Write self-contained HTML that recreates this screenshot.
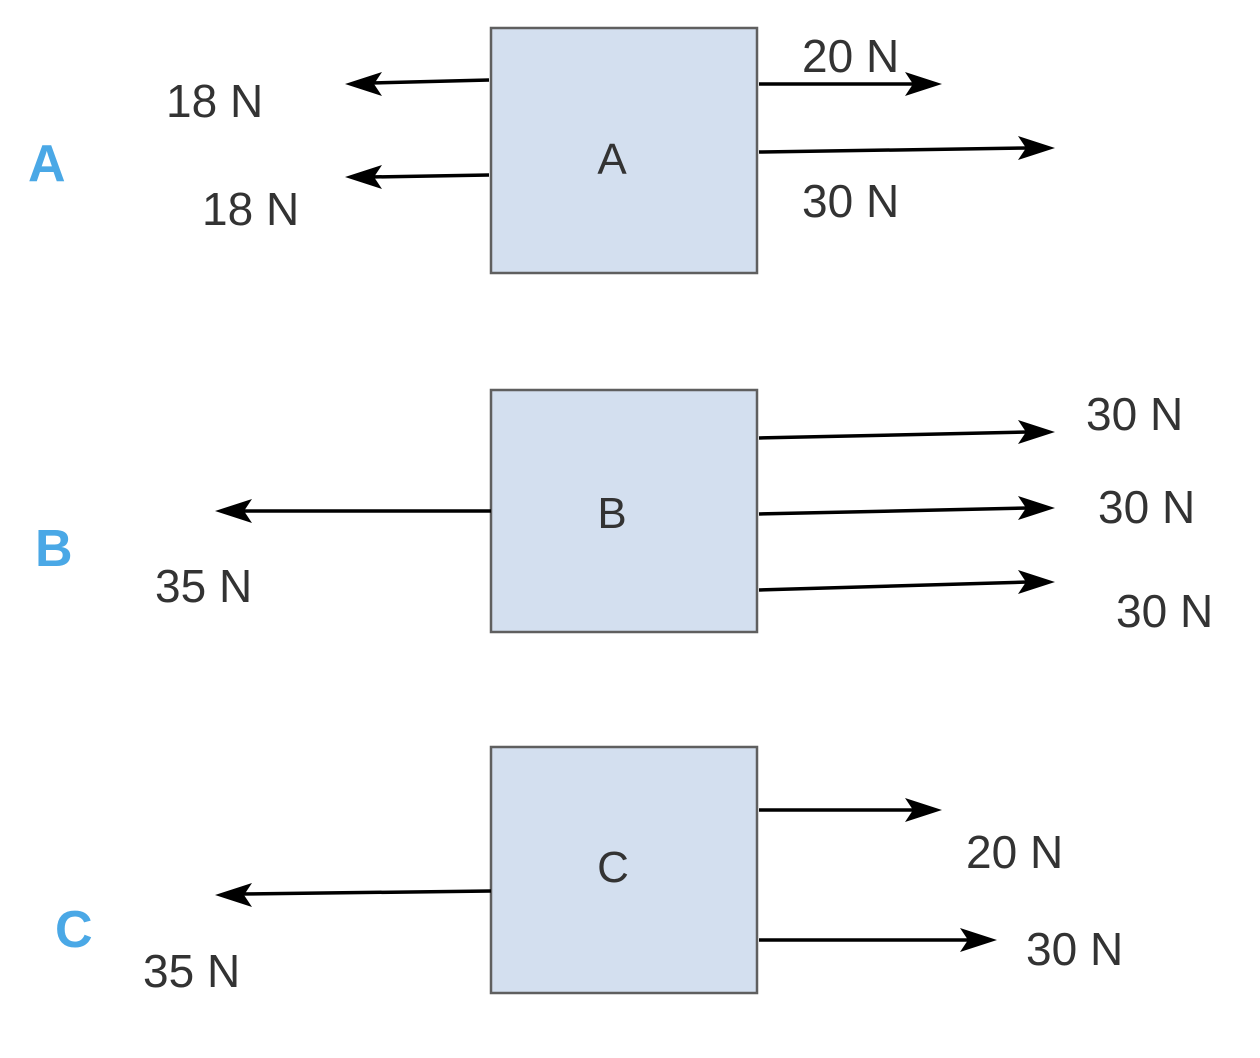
<!DOCTYPE html>
<html><head><meta charset="utf-8"><style>
html,body{margin:0;padding:0;background:#fff}
svg{display:block}
text{font-family:"Liberation Sans",sans-serif}
</style></head><body>
<svg width="1260" height="1058" viewBox="0 0 1260 1058" xmlns="http://www.w3.org/2000/svg">
<g fill="#d3dfef" stroke="#5f5f5f" stroke-width="2.5">
<rect x="491" y="28" width="266" height="245"/>
<rect x="491" y="390" width="266" height="242"/>
<rect x="491" y="747" width="266" height="246"/>
</g>
<g stroke="#000" stroke-width="3.5">
<line x1="489" y1="80" x2="370" y2="83"/>
<line x1="489" y1="175" x2="370" y2="177"/>
<line x1="759" y1="84" x2="915" y2="84"/>
<line x1="759" y1="152" x2="1028" y2="148"/>
<line x1="759" y1="438" x2="1028" y2="432"/>
<line x1="759" y1="514" x2="1028" y2="508"/>
<line x1="759" y1="590" x2="1028" y2="582"/>
<line x1="491" y1="511" x2="240" y2="511"/>
<line x1="759" y1="810" x2="915" y2="810"/>
<line x1="759" y1="940" x2="970" y2="940"/>
<line x1="491" y1="891" x2="240" y2="894"/>
</g>
<g fill="#000">
<polygon points="345,84 382,72 374,84 382,96"/>
<polygon points="345,177 382,165 374,177 382,189"/>
<polygon points="942,84 905,72 913,84 905,96"/>
<polygon points="1055,148 1018,136 1026,148 1018,160"/>
<polygon points="1055,432 1018,420 1026,432 1018,444"/>
<polygon points="1055,508 1018,496 1026,508 1018,520"/>
<polygon points="1055,582 1018,570 1026,582 1018,594"/>
<polygon points="215,511 252,499 244,511 252,523"/>
<polygon points="942,810 905,798 913,810 905,822"/>
<polygon points="997,940 960,928 968,940 960,952"/>
<polygon points="215,895 252,883 244,895 252,907"/>
</g>
<g fill="#333" font-size="46">
<text x="166" y="117">18 N</text>
<text x="202" y="225">18 N</text>
<text x="802" y="72">20 N</text>
<text x="802" y="217">30 N</text>
<text x="1086" y="430">30 N</text>
<text x="1098" y="523">30 N</text>
<text x="1116" y="627">30 N</text>
<text x="155" y="602">35 N</text>
<text x="966" y="868">20 N</text>
<text x="1026" y="965">30 N</text>
<text x="143" y="987">35 N</text>
</g>
<g fill="#333" font-size="44" text-anchor="middle">
<text x="612" y="174">A</text>
<text x="612" y="528">B</text>
<text x="613" y="882">C</text>
</g>
<g fill="#4aa8e6" font-size="52" font-weight="bold">
<text x="28" y="181">A</text>
<text x="35" y="566">B</text>
<text x="55" y="947">C</text>
</g>
</svg>
</body></html>
